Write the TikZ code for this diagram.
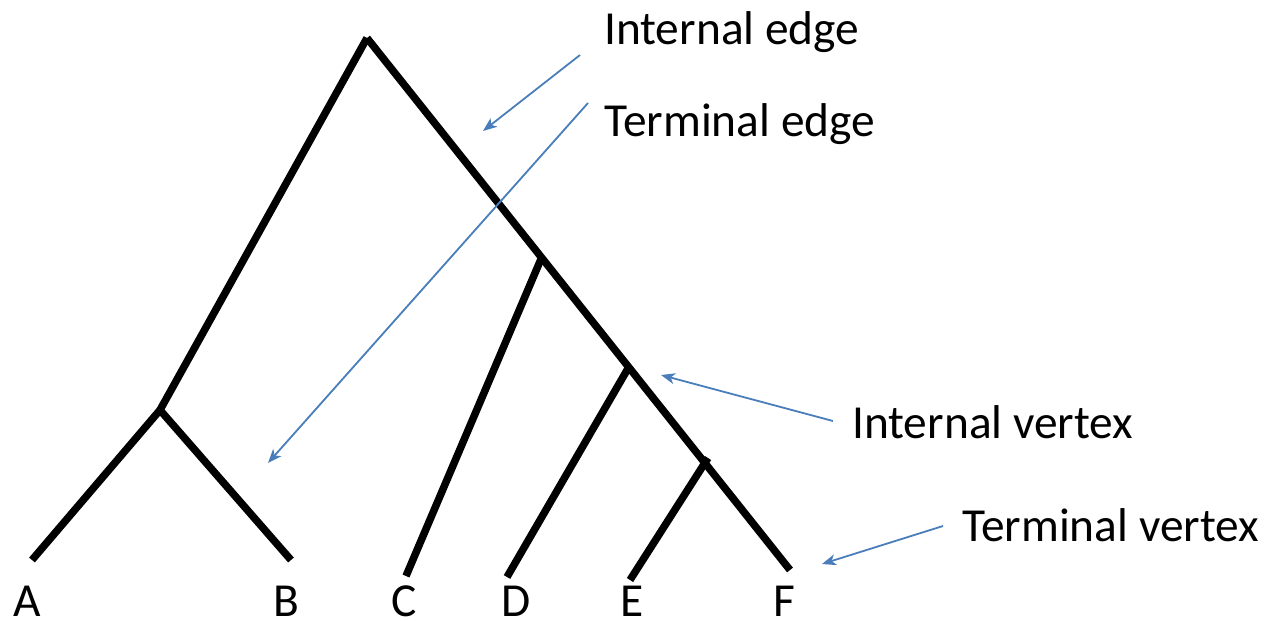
\documentclass[tikz,border=0pt]{standalone}
\usepackage{fontspec}
\setmainfont{Carlito}
\usetikzlibrary{arrows.meta}
\begin{document}
\begin{tikzpicture}[x=1pt,y=-1pt,
  branch/.style={line width=7.5pt,black},
  pointer/.style={line width=1.8pt,color={rgb,255:red,74;green,126;blue,187},-{Stealth[length=14pt,width=11pt,inset=4pt]}},
  lab/.style={anchor=base west,inner sep=0pt,font=\fontsize{47.4}{50}\selectfont},
  leaf/.style={anchor=base,inner sep=0pt,font=\fontsize{47.4}{50}\selectfont}]
\useasboundingbox (0,0) rectangle (1269,621);
% tree points
\coordinate (root) at (367,38);
\coordinate (ab) at (160,410);
\coordinate (a) at (32,560);
\coordinate (b) at (291,560);
\coordinate (cn) at (541,259);
\coordinate (c) at (406,576);
\coordinate (dn) at (630,365);
\coordinate (d) at (507,577);
\coordinate (en) at (708,458);
\coordinate (e) at (630,580);
\coordinate (f) at (790,570);
\draw[branch] (root) -- (ab);
\draw[branch] (ab) -- (a);
\draw[branch] (ab) -- (b);
\draw[branch] (root) -- (f);
\draw[branch] (cn) -- (c);
\draw[branch] (dn) -- (d);
\draw[branch] (en) -- (e);
% leaf labels
\node[leaf] (la) at (27,616) {A};
\node[leaf] (lb) at (286,616) {B};
\node[leaf] (lc) at (404,616) {C};
\node[leaf] (ld) at (516,616) {D};
\node[leaf] (le) at (632,616) {E};
\node[leaf] (lf) at (784,616) {F};
% annotations
\node[lab] (ie) at (604,44) {Internal edge};
\node[lab] (te) at (604,136) {Terminal edge};
\node[lab] (iv) at (852,438) {Internal vertex};
\node[lab] (tv) at (962,541) {Terminal vertex};
\coordinate (ie1) at (580,55);
\coordinate (ie2) at (483,131);
\coordinate (te1) at (588,103);
\coordinate (te2) at (268,463);
\coordinate (iv1) at (833,421);
\coordinate (iv2) at (661,375);
\coordinate (tv1) at (943,526);
\coordinate (tv2) at (822,564);
\draw[pointer] (ie1) -- (ie2);
\draw[pointer] (te1) -- (te2);
\draw[pointer] (iv1) -- (iv2);
\draw[pointer] (tv1) -- (tv2);
\end{tikzpicture}
\end{document}
